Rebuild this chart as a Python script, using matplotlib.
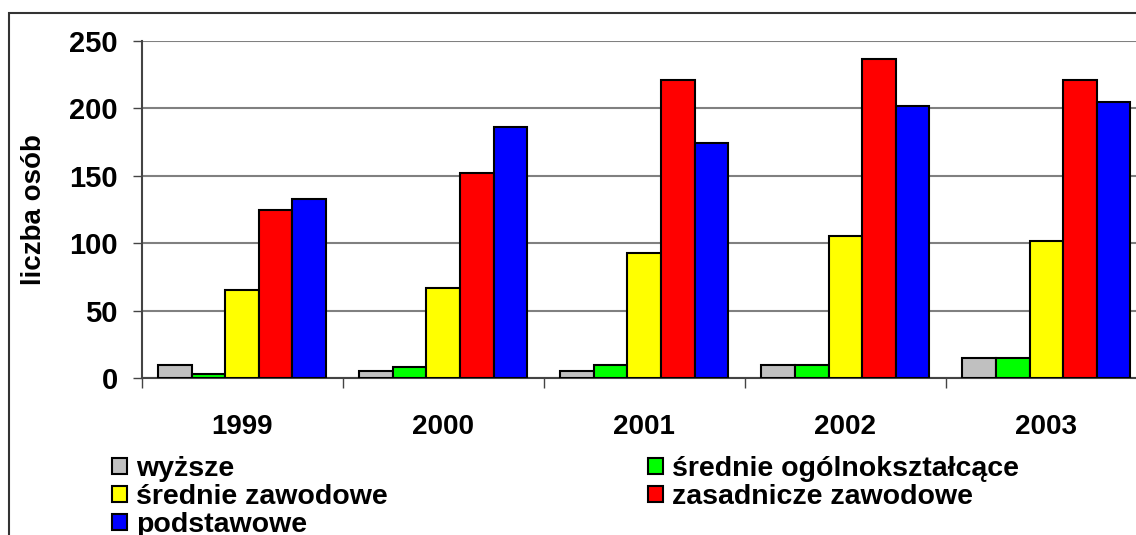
import numpy as np
import matplotlib.pyplot as plt
from matplotlib.patches import Rectangle

plt.rcParams['font.family'] = ['Liberation Sans', 'DejaVu Sans']
plt.rcParams['font.weight'] = 'bold'

# data
years = ["1999", "2000", "2001", "2002", "2003"]
series = ["wyższe", "średnie ogólnokształcące", "średnie zawodowe",
          "zasadnicze zawodowe", "podstawowe"]
wyzsze = [10, 5, 5, 10, 15]
srednie_ogolne = [3, 8, 10, 10, 15]
srednie_zawodowe = [65, 67, 93, 105, 102]
zasadnicze = [125, 152, 221, 237, 221]
podstawowe = [133, 186, 174, 202, 205]
colors = ['#C0C0C0', '#00FF00', '#FFFF00', '#FF0000', '#0000FF']

values = [wyzsze, srednie_ogolne, srednie_zawodowe, zasadnicze, podstawowe]

W, H = 1136, 535
fig = plt.figure(figsize=(W / 100, H / 100), dpi=100)

# outer chart border (partly cut off like the reference)
fig.patches.append(Rectangle((9 / W, -0.1), 1.2, (H - 13) / H + 0.1,
                             transform=fig.transFigure, fill=False,
                             edgecolor='#333333', linewidth=1.5))

ax = fig.add_axes([141.5 / W, (H - 378) / H, (1147 - 141.5) / W, 337 / H])

x = np.arange(len(years))
bw = 0.167
bars = []
for i in range(len(series)):
    b = ax.bar(x + (i - 2) * bw, values[i], bw, color=colors[i],
               edgecolor='black', linewidth=1.5, zorder=3)
    bars.append(b)

ax.set_xlim(-0.5, len(years) - 0.5)
ax.set_ylim(0, 250)
ax.set_yticks([0, 50, 100, 150, 200, 250])
ax.yaxis.grid(True, color='#808080', linewidth=1.5, zorder=0)
ax.set_axisbelow(True)

ax.set_xticks(x)
ax.set_xticklabels(years)
ax.set_xticks(np.arange(len(years) + 1) - 0.5, minor=True)
ax.tick_params(axis='x', which='major', length=0, pad=26, labelsize=20)
ax.tick_params(axis='x', which='minor', length=7, width=1, color='#444444')
ax.tick_params(axis='y', length=6.5, width=1, color='#444444', labelsize=21, pad=10.5)
for lab in ax.get_xticklabels() + ax.get_yticklabels():
    lab.set_fontweight('bold')

for s in ['top', 'right']:
    ax.spines[s].set_visible(False)
for s in ['left', 'bottom']:
    ax.spines[s].set_color('#444444')
    ax.spines[s].set_linewidth(1.5)

ax.set_ylabel("liczba osób", fontsize=20, fontweight='bold', labelpad=16)

leg_kw = dict(frameon=False, fontsize=20.5, handlelength=0.53, handleheight=0.53,
              handletextpad=0.33, labelspacing=0.07, borderpad=0, borderaxespad=0)
fig.legend([bars[0], bars[2], bars[4]], [series[0], series[2], series[4]],
           loc='upper left', bbox_to_anchor=(112 / W, (H - 456) / H), **leg_kw)
fig.legend([bars[1], bars[3]], [series[1], series[3]],
           loc='upper left', bbox_to_anchor=(648 / W, (H - 456) / H), **leg_kw)

fig.savefig("out.png", dpi=100)
